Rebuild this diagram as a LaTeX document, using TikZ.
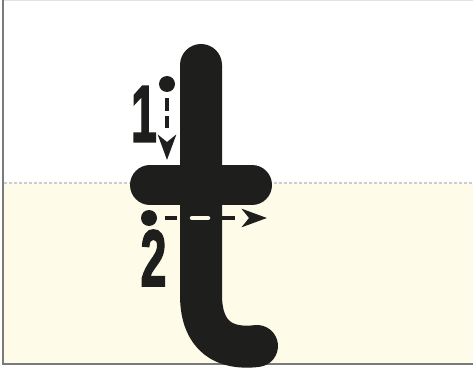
\documentclass[tikz,border=0pt]{standalone}
\usepackage{fontspec}
\setmainfont{Liberation Sans}
\newfontfamily\numfont[FakeBold=2.5]{Liberation Sans Bold}
\usetikzlibrary{arrows.meta}
\definecolor{ink}{HTML}{1E1E1C}
\definecolor{cream}{HTML}{FEFBE8}
\definecolor{guide}{HTML}{CCCCCC}
\definecolor{frame}{HTML}{7A7A7A}
\definecolor{topline}{HTML}{E2E2E2}
\tikzset{
  letterstroke/.style={draw=ink, line cap=round, line join=round},
  startdot/.style={circle, fill=ink, draw=none, minimum size=16pt, inner sep=0pt},
  guidearrow/.style={draw=ink, line width=4.5pt, -{Stealth[length=25pt,width=18pt,inset=7pt]}},
  num/.style={inner sep=0pt, text=ink, font=\numfont\fontsize{80}{80}\selectfont}
}
\begin{document}
\begin{tikzpicture}[x=1pt,y=-1pt]
\useasboundingbox (0,0) rectangle (473,371);
% background
\fill[white] (0,0) rectangle (473,371);
\fill[cream] (4,183) rectangle (473,363);
\draw[guide, line width=1.2pt, dash pattern=on 3pt off 2pt] (4,183) -- (473,183);
% frame
\draw[topline, line width=1pt] (4,0.5) -- (473,0.5);
\draw[frame, line width=2pt] (3,0) -- (3,365);
\draw[frame, line width=2.5pt] (2,364) -- (473,364);
% letter t
\draw[letterstroke, line width=42pt] (201,65) -- (201,295) .. controls (201,337) and (225,350) .. (257,346);
\draw[letterstroke, line width=40pt] (150,185) -- (252,185);
% stroke 1
\node[startdot] (d1) at (167,84) {};
\coordinate (t1) at (167,160);
\draw[guidearrow, dash pattern=on 0pt off 6pt on 13pt off 5pt on 12pt off 40pt] (d1) -- (t1);
\node[num] (n1) at (144,114) {\scalebox{0.58}[1]{1}};
% stroke 2
\node[startdot] (d2) at (149,218) {};
\coordinate (t2) at (267,218);
\draw[guidearrow, dash pattern=on 0pt off 7.5pt on 12pt off 13pt on 20pt off 12pt on 13pt off 40pt] (d2) -- (t2);
\draw[cream, line width=4.5pt, line cap=round] (192,218) -- (208,218);
\node[num] (n2) at (153.5,258) {\scalebox{0.58}[1]{2}};
\end{tikzpicture}
\end{document}
